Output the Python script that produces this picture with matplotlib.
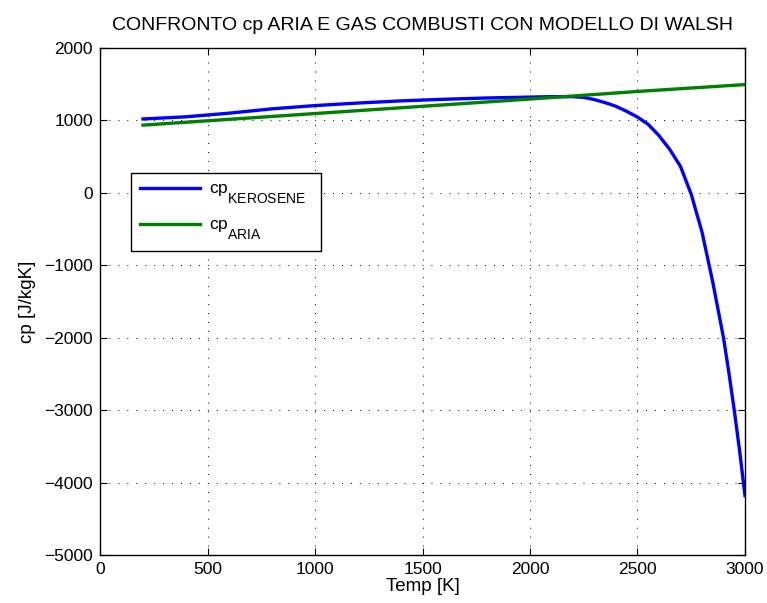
import matplotlib
matplotlib.use("Agg")
import matplotlib.pyplot as plt

try:
    import matplotlib._mathtext as _mt
    _mt.SHRINK_FACTOR = 0.8
    _mt.FontConstantsBase.subdrop = 1.15
    _mt.FontConstantsBase.sub1 = 1.15
except Exception:
    pass

plt.rcParams['font.family'] = ['Liberation Sans', 'DejaVu Sans']
plt.rcParams['mathtext.fontset'] = 'custom'
plt.rcParams['mathtext.rm'] = 'Liberation Sans'
plt.rcParams['mathtext.it'] = 'Liberation Sans'
plt.rcParams['mathtext.bf'] = 'Liberation Sans:bold'

# Data
temp_k = [200, 400, 600, 800, 1000, 1200, 1400, 1600, 1800, 2000, 2100, 2200, 2250,
          2300, 2350, 2400, 2450, 2500, 2550, 2600, 2650, 2700, 2750, 2800, 2850,
          2900, 2925, 2950, 2975, 3000]
cp_kerosene = [1020, 1050, 1100, 1160, 1205, 1240, 1270, 1292, 1310, 1322, 1328, 1328, 1318,
               1287, 1245, 1195, 1125, 1046, 945, 790, 600, 365, -20, -540, -1230,
               -2000, -2480, -3000, -3560, -4180]
temp_air = [200, 500, 1000, 1500, 2000, 2500, 3000]
cp_aria = [935, 995, 1095, 1195, 1295, 1400, 1495]

series_labels = [r'cp$_{\mathrm{KEROSENE}}$', r'cp$_{\mathrm{ARIA}}$']

x_ticks = [0, 500, 1000, 1500, 2000, 2500, 3000]
y_ticks = [-5000, -4000, -3000, -2000, -1000, 0, 1000, 2000]

fig = plt.figure(figsize=(7.67, 6.03), dpi=100)
ax = fig.add_axes([0.1304, 0.0796, 0.8409, 0.8408])

l1, = ax.plot(temp_k, cp_kerosene, color='#0000ff', lw=2.4)
l2, = ax.plot(temp_air, cp_aria, color='#008000', lw=2.4)

ax.set_xlim(0, 3000)
ax.set_ylim(-5000, 2000)
ax.set_xticks(x_ticks)
ax.set_yticks(y_ticks)
ax.tick_params(direction='in', top=True, right=True, labelsize=12.5, length=5, pad=5)
ax.grid(True, linestyle=(0, (1, 8.2)), color='black', linewidth=0.7)
for s in ax.spines.values():
    s.set_linewidth(1.0)

ax.set_xlabel('Temp [K]', fontsize=13.5, labelpad=1)
ax.set_ylabel('cp [J/kgK]', fontsize=13.5, labelpad=6)
ax.set_title('CONFRONTO cp ARIA E GAS COMBUSTI CON MODELLO DI WALSH', fontsize=14, pad=13)

leg = ax.legend([l1, l2], [lab + '  ' for lab in series_labels],
                loc='upper left', bbox_to_anchor=(0.0476, 0.754), fontsize=12.5,
                fancybox=False, edgecolor='black', framealpha=1, handlelength=3.46,
                handletextpad=0.5, borderpad=0.53, labelspacing=0.65,
                borderaxespad=0)
leg.get_frame().set_linewidth(1.0)

fig.savefig('out.png', dpi=100)
